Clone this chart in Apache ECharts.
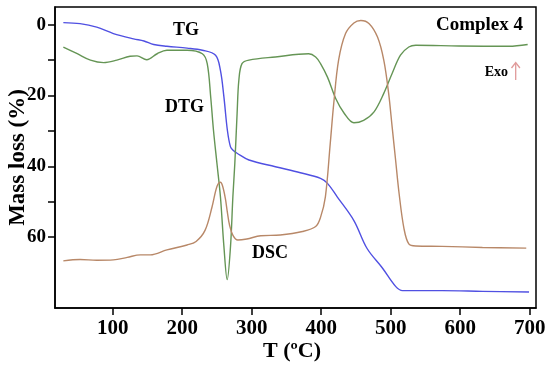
<!DOCTYPE html>
<html>
<head>
<meta charset="utf-8">
<script src="https://cdn.jsdelivr.net/npm/echarts@6/dist/echarts.min.js"></script>
<style>
html,body{margin:0;padding:0;background:#fff;}
#c{width:550px;height:369px;}
</style>
</head>
<body>
<div id="c"></div>
<script>
// ---- data ----
var tgT = [29, 53, 77, 101, 130, 145, 159, 178, 207, 229, 248, 255, 260, 265, 269.5, 274, 279, 296, 334, 370, 399, 409, 423, 447, 466, 488, 507, 517, 574, 632, 699];
var tgV = [-0.6, -0.3, 0.7, 2.5, 4, 4.6, 5.6, 6.1, 6.6, 7.2, 8.6, 12.9, 20.4, 29.8, 34.5, 35.6, 36.3, 38.2, 40.1, 41.8, 43.4, 44.8, 48.6, 55.3, 63.2, 68.7, 73.9, 75.1, 75.1, 75.3, 75.5];

var dtgT = [29, 49, 68, 87, 106, 125, 135, 149, 164, 178, 207, 229, 236, 241, 245, 250, 255, 260, 264.7, 269.5, 272.9, 275.7, 279, 281.5, 286, 296, 334, 382, 392, 399, 409, 421, 433, 447, 461, 476, 490, 502, 514, 526, 536, 598, 670, 697];
var dtgV = [6.3, 8.2, 10, 10.7, 10, 8.9, 8.8, 9.9, 8.2, 7.2, 7.2, 8.2, 11, 20.4, 29.8, 39.2, 48.6, 62.6, 72, 62.6, 48.6, 39.2, 25, 15.7, 11, 10, 9.1, 8.2, 9.1, 11, 14.8, 20.9, 25, 27.7, 27, 24.6, 19.4, 13.8, 8.6, 6.3, 5.8, 6, 6.1, 5.6];

var dscT = [29, 53, 77, 101, 121, 140, 154, 178, 207, 220, 233, 243, 250, 255, 258, 262, 265, 268, 273, 280, 293, 313, 341, 373, 392, 399, 406, 413, 418, 425, 435, 447, 457, 469, 481, 490, 497, 502, 507, 512, 519, 526, 536, 574, 632, 695];
var dscV = [66.7, 66.3, 66.5, 66.4, 65.7, 65, 65, 63.6, 62.2, 61.2, 58, 51.4, 45.7, 44.5, 45.5, 49, 53, 56.5, 59.5, 60.8, 60.5, 59.6, 59.4, 58.4, 57, 54.4, 48.6, 33.5, 22.3, 10, 2.5, -0.5, -1.2, -0.3, 3.5, 10, 19.4, 28.8, 38.2, 47.6, 57.5, 61.9, 62.5, 62.6, 62.9, 63.1];

var xTicks = [100, 200, 300, 400, 500, 600, 700];
var yLabels = [0, 20, 40, 60];
var yTicks = [0, 10, 20, 30, 40, 50, 60];

var seriesNames = ['TG', 'DTG', 'DSC'];

function pairs(xs, ys) {
  var out = [];
  for (var i = 0; i < xs.length; i++) out.push([xs[i], ys[i]]);
  return out;
}

var FONT = '"Liberation Serif", "Times New Roman", serif';

var chart = echarts.init(document.getElementById('c'), null, {renderer: 'canvas'});
chart.setOption({
  backgroundColor: '#ffffff',
  animation: false,
  grid: {left: 55, right: 14, top: 7, bottom: 61, containLabel: false, outerBoundsMode: 'none',
         show: true, borderColor: '#000', borderWidth: 1.5, backgroundColor: 'transparent'},
  xAxis: {
    type: 'value', min: 17, max: 709,
    name: 'T (ºC)', nameLocation: 'middle', nameGap: 32, nameMoveOverlap: false,
    nameTextStyle: {fontFamily: FONT, fontWeight: 'bold', fontSize: 22, color: '#000', padding: [0, 7, 0, 0]},
    axisLine: {show: true, onZero: false, lineStyle: {color: '#000', width: 1.5}},
    axisTick: {show: true, length: 7, inside: false, customValues: xTicks, lineStyle: {color: '#000', width: 1.5}},
    axisLabel: {customValues: xTicks, margin: 10, fontFamily: FONT, fontWeight: 'bold', fontSize: 21, color: '#000'},
    splitLine: {show: false}
  },
  yAxis: {
    type: 'value', min: -5, max: 80, inverse: true,
    name: 'Mass loss (%)', nameLocation: 'middle', nameGap: 25, nameMoveOverlap: false,
    nameTextStyle: {fontFamily: FONT, fontWeight: 'bold', fontSize: 23, color: '#000'},
    axisLine: {show: true, onZero: false, lineStyle: {color: '#000', width: 1.5}},
    axisTick: {show: true, length: 7, inside: false, customValues: yTicks, lineStyle: {color: '#000', width: 1.5}},
    axisLabel: {customValues: yLabels, margin: 9, fontFamily: FONT, fontWeight: 'bold', fontSize: 19, color: '#000'},
    splitLine: {show: false}
  },
  series: [
    {name: seriesNames[0], type: 'line', data: pairs(tgT, tgV), showSymbol: false, smooth: 0.35,
     lineStyle: {color: '#5050e2', width: 1.4}, itemStyle: {color: '#5050e2'}},
    {name: seriesNames[1], type: 'line', data: pairs(dtgT, dtgV), showSymbol: false, smooth: 0.35,
     lineStyle: {color: '#659555', width: 1.4}, itemStyle: {color: '#659555'}},
    {name: seriesNames[2], type: 'line', data: pairs(dscT, dscV), showSymbol: false, smooth: 0.35,
     lineStyle: {color: '#b88868', width: 1.4}, itemStyle: {color: '#b88868'}}
  ],
  graphic: [
    {type: 'text', x: 186, y: 30, style: {text: 'TG', font: 'bold 18px ' + FONT, fill: '#000', align: 'center', verticalAlign: 'middle'}},
    {type: 'text', x: 184.5, y: 107, style: {text: 'DTG', font: 'bold 18px ' + FONT, fill: '#000', align: 'center', verticalAlign: 'middle'}},
    {type: 'text', x: 270, y: 253, style: {text: 'DSC', font: 'bold 18px ' + FONT, fill: '#000', align: 'center', verticalAlign: 'middle'}},
    {type: 'text', x: 523, y: 25, style: {text: 'Complex 4', font: 'bold 19px ' + FONT, fill: '#000', align: 'right', verticalAlign: 'middle'}},
    {type: 'text', x: 508, y: 72, style: {text: 'Exo', font: 'bold 14px ' + FONT, fill: '#000', align: 'right', verticalAlign: 'middle'}},
    {type: 'line', shape: {x1: 515.7, y1: 63, x2: 515.7, y2: 80}, style: {stroke: '#e09a9a', lineWidth: 1.3}},
    {type: 'polyline', shape: {points: [[511.5, 68], [515.7, 62.5], [519.9, 68]]}, style: {stroke: '#e09a9a', lineWidth: 1.3, fill: null}}
  ]
});
</script>
</body>
</html>
